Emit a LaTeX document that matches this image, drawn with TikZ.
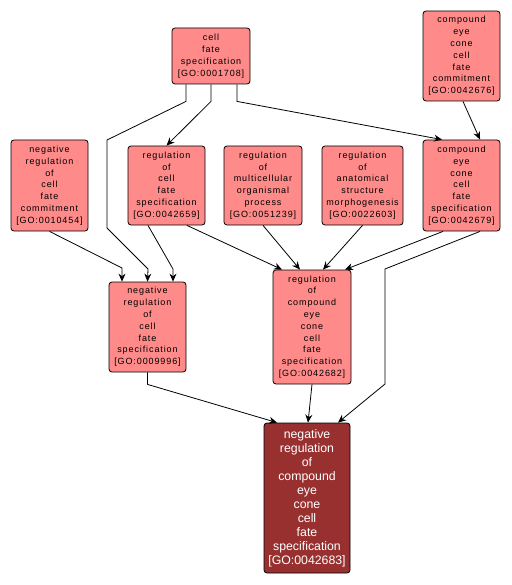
\documentclass[tikz,border=0pt]{standalone}
\usepackage{fontspec}
\usepackage{tikz}
\usetikzlibrary{arrows.meta}
\newfontfamily\golight[LetterSpace=10]{Liberation Sans}
\newfontfamily\godark{Liberation Sans}
\definecolor{termfill}{RGB}{255,138,138}
\definecolor{queryfill}{RGB}{153,48,48}

\begin{document}
\begin{tikzpicture}[x=1pt,y=-1pt,line width=0.8pt,
    -{Stealth[length=8pt,width=7pt]},
    term/.style={draw=black,fill=termfill,rounded corners=3pt,align=center,
      inner sep=0pt,minimum width=#1,
      font=\golight\fontsize{9}{11.8}\selectfont},
    query/.style={draw=black,fill=queryfill,rounded corners=3pt,align=center,
      inner sep=0pt,minimum width=86pt,minimum height=150pt,text=white,
      font=\godark\fontsize{12.3}{14}\selectfont}]
    \useasboundingbox (0,0) rectangle (511,585);
    % terms, top to bottom
    \node (cfs) [term=78pt,minimum height=56pt] at (211,56) {cell\\fate\\specification\\{[GO:0001708]}};
    \node (cecfc) [term=77pt,minimum height=90pt] at (461.5,56) {compound\\eye\\cone\\cell\\fate\\commitment\\{[GO:0042676]}};
    \node (nrcfc) [term=77pt,minimum height=91pt] at (49.5,185.5) {negative\\regulation\\of\\cell\\fate\\commitment\\{[GO:0010454]}};
    \node (rcfs) [term=77pt,minimum height=79pt] at (166.5,185.5) {regulation\\of\\cell\\fate\\specification\\{[GO:0042659]}};
    \node (rmop) [term=78pt,minimum height=79pt] at (263,185.5) {regulation\\of\\multicellular\\organismal\\process\\{[GO:0051239]}};
    \node (rasm) [term=81pt,minimum height=79pt] at (362.5,185.5) {regulation\\of\\anatomical\\structure\\morphogenesis\\{[GO:0022603]}};
    \node (cecfs) [term=77pt,minimum height=91pt] at (461.5,185.5) {compound\\eye\\cone\\cell\\fate\\specification\\{[GO:0042679]}};
    \node (nrcfs) [term=77pt,minimum height=90pt] at (147.5,327) {negative\\regulation\\of\\cell\\fate\\specification\\{[GO:0009996]}};
    \node (rcecfs) [term=78pt,minimum height=114pt] at (312,327) {regulation\\of\\compound\\eye\\cone\\cell\\fate\\specification\\{[GO:0042682]}};
    \node (nrcecfs) [query] at (307,498) {negative\\regulation\\of\\compound\\eye\\cone\\cell\\fate\\specification\\{[GO:0042683]}};
    % is_a links
    \draw ([xshift=-25pt]cfs.south) -- ++(0,17) -- (107,140) -- (107,228) -- (148,269) -- (nrcfs.north);
    \draw (cfs.south) -- ++(0,17) -- (rcfs.north);
    \draw ([xshift=26pt]cfs.south) -- ++(0,17) -- ([xshift=-19.5pt]cecfs.north);
    \draw ([xshift=1.5pt]cecfc.south) -- ([xshift=18.5pt]cecfs.north);
    \draw (nrcfc.south) -- (122,268) -- ([xshift=-25.5pt]nrcfs.north);
    \draw ([xshift=-18.5pt]rcfs.south) -- (173,269) -- ([xshift=25.5pt]nrcfs.north);
    \draw ([xshift=20.5pt]rcfs.south) -- ([xshift=-30pt]rcecfs.north);
    \draw (rmop.south) -- ([xshift=-12pt]rcecfs.north);
    \draw (rasm.south) -- ([xshift=11pt]rcecfs.north);
    \draw ([xshift=-18.5pt]cecfs.south) -- ([xshift=33pt]rcecfs.north);
    \draw ([xshift=18.5pt]cecfs.south) -- (385,269) -- (385,384) -- ([xshift=31pt]nrcecfs.north);
    \draw (nrcfs.south) -- ++(0,12) -- ([xshift=-30pt]nrcecfs.north);
    \draw (rcecfs.south) -- ([xshift=1pt]nrcecfs.north);
\end{tikzpicture}
\end{document}
